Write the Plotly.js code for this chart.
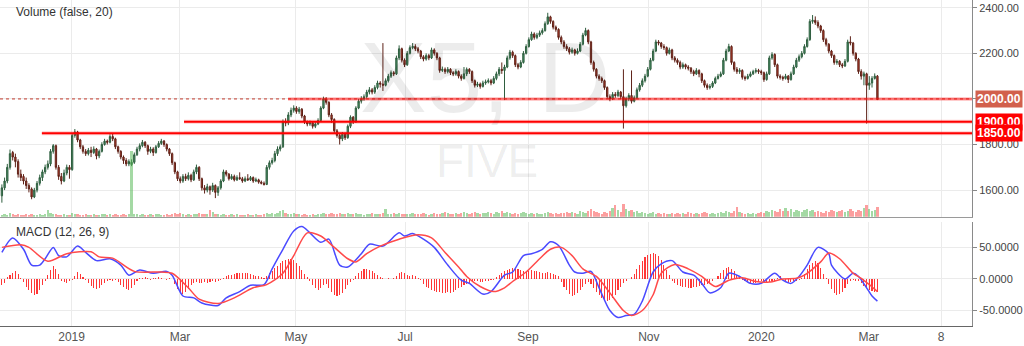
<!DOCTYPE html>
<html><head><meta charset="utf-8">
<script src="https://cdn.plot.ly/plotly-3.0.1.min.js"></script>
<style>html,body{margin:0;padding:0;background:#fff}#chart{width:1024px;height:346px}</style>
</head><body><div id="chart"></div>
<script>
// bar index -> trading day (daily bars, Nov 2018 .. Mar 2020)
const openP = [
1575,1610,1640,1700,1765,1745,1725,1670,1660,1640,
1620,1605,1570,1600,1630,1655,1680,1700,1715,1770,
1795,1700,1660,1640,1675,1700,1690,1840,1855,1820,
1790,1770,1760,1775,1765,1780,1750,1770,1800,1815,
1810,1835,1825,1790,1770,1745,1730,1715,1712,1722,
1755,1780,1795,1810,1795,1770,1780,1765,1790,1805,
1815,1800,1780,1760,1720,1680,1650,1640,1660,1650,
1665,1645,1680,1700,1650,1610,1600,1615,1600,1620,
1590,1610,1640,1680,1670,1650,1660,1645,1655,1650,
1640,1650,1645,1655,1640,1645,1635,1630,1625,1700,
1720,1730,1760,1780,1790,1900,1895,1930,1950,1960,
1945,1955,1925,1900,1890,1895,1880,1890,1905,1960,
2000,1985,1930,1910,1860,1840,1825,1845,1830,1880,
1920,1900,1960,1990,2000,2010,2030,2040,2030,2050,
2070,2065,2060,2080,2100,2115,2110,2180,2220,2170,
2150,2200,2225,2230,2220,2210,2185,2175,2190,2180,
2215,2200,2180,2125,2130,2120,2130,2115,2110,2120,
2100,2090,2110,2130,2120,2080,2060,2065,2055,2070,
2075,2080,2070,2090,2110,2130,2125,2140,2180,2205,
2190,2150,2140,2160,2200,2230,2260,2285,2270,2280,
2290,2300,2330,2360,2340,2315,2305,2270,2250,2230,
2220,2205,2215,2200,2210,2240,2280,2300,2250,2160,
2130,2100,2090,2080,2050,2010,2000,2020,2015,2030,
2010,1970,2000,2015,1990,2005,2040,2060,2080,2100,
2130,2170,2210,2250,2245,2230,2225,2200,2215,2180,
2170,2160,2140,2150,2140,2135,2120,2110,2125,2110,
2080,2060,2050,2055,2070,2090,2100,2110,2170,2210,
2230,2160,2130,2120,2125,2095,2090,2100,2110,2120,
2125,2120,2115,2085,2110,2180,2195,2150,2100,2095,
2090,2100,2085,2110,2140,2170,2185,2200,2230,2260,
2340,2345,2335,2320,2300,2260,2240,2210,2190,2160,
2165,2150,2145,2165,2250,2245,2200,2175,2120,2100,
2110,2060,2070,2090,2100];
const highP = [
1625,1655,1715,1778,1772,1760,1735,1690,1670,1655,
1630,1612,1610,1640,1668,1690,1712,1730,1780,1802,
1800,1710,1675,1690,1712,1710,1848,1868,1860,1825,
1798,1780,1785,1790,1792,1785,1778,1810,1825,1822,
1845,1848,1830,1795,1775,1752,1740,1735,1735,1765,
1790,1805,1820,1815,1800,1790,1788,1798,1815,1825,
1820,1805,1785,1765,1725,1685,1660,1670,1672,1678,
1672,1690,1712,1705,1655,1622,1628,1620,1632,1625,
1618,1648,1690,1688,1675,1670,1668,1665,1678,1658,
1660,1670,1662,1660,1655,1650,1642,1638,1710,1730,
1742,1772,1792,1800,1910,1915,1942,1962,1972,1968,
1965,1960,1930,1905,1905,1900,1898,1915,1968,2010,
2008,1990,1938,1915,1868,1850,1855,1852,1888,1928,
1925,1968,2000,2012,2020,2040,2052,2048,2060,2080,
2078,2245,2090,2110,2125,2122,2190,2235,2225,2178,
2210,2235,2245,2240,2228,2215,2192,2200,2198,2225,
2222,2205,2185,2142,2138,2140,2135,2122,2130,2125,
2108,2140,2138,2135,2125,2085,2075,2072,2080,2085,
2090,2088,2100,2120,2140,2160,2150,2190,2215,2212,
2195,2158,2170,2210,2240,2270,2295,2292,2290,2300,
2310,2340,2378,2365,2345,2322,2310,2278,2258,2240,
2228,2225,2220,2222,2250,2290,2312,2305,2255,2168,
2135,2108,2098,2085,2055,2020,2030,2030,2040,2035,
2130,2010,2025,2125,2015,2050,2070,2090,2110,2140,
2180,2220,2260,2258,2250,2240,2230,2225,2220,2188,
2178,2168,2160,2155,2148,2140,2128,2135,2130,2115,
2085,2068,2065,2078,2098,2110,2120,2180,2220,2242,
2235,2165,2140,2135,2130,2102,2110,2120,2128,2135,
2132,2128,2120,2120,2190,2205,2200,2155,2108,2102,
2110,2105,2120,2150,2180,2195,2210,2240,2270,2350,
2368,2362,2345,2325,2305,2268,2245,2215,2195,2175,
2170,2158,2175,2260,2275,2250,2205,2180,2130,2120,
2115,2100,2100,2112,2105];
const lowP = [
1545,1600,1630,1690,1730,1700,1655,1640,1625,1605,
1590,1560,1565,1590,1620,1640,1670,1690,1705,1760,
1690,1645,1625,1635,1665,1650,1685,1830,1810,1780,
1760,1750,1752,1745,1758,1735,1740,1765,1795,1800,
1805,1815,1780,1760,1735,1715,1705,1705,1705,1715,
1750,1770,1788,1785,1755,1762,1750,1760,1785,1798,
1790,1770,1750,1710,1670,1640,1630,1632,1640,1642,
1635,1640,1670,1640,1598,1585,1590,1580,1592,1565,
1575,1602,1635,1660,1642,1645,1638,1640,1645,1632,
1635,1640,1640,1632,1635,1628,1625,1620,1622,1690,
1712,1722,1750,1770,1785,1880,1885,1920,1940,1935,
1935,1915,1890,1880,1882,1870,1872,1885,1900,1955,
1975,1920,1895,1850,1830,1800,1815,1820,1825,1872,
1890,1895,1955,1980,1992,2002,2020,2020,2022,2042,
2050,2035,2055,2072,2092,2100,2105,2170,2160,2140,
2145,2195,2218,2210,2200,2175,2165,2168,2170,2175,
2190,2170,2115,2118,2110,2112,2105,2100,2102,2090,
2080,2085,2100,2110,2070,2050,2052,2045,2050,2062,
2068,2060,2065,2082,2100,2110,1995,2135,2172,2180,
2140,2130,2135,2155,2195,2225,2255,2260,2262,2272,
2282,2295,2325,2330,2305,2295,2260,2240,2220,2210,
2195,2198,2190,2195,2205,2235,2275,2240,2150,2120,
2090,2080,2070,2040,2000,1990,1995,2005,2008,2000,
1870,1962,1990,1980,1985,2000,2032,2052,2072,2095,
2125,2165,2205,2235,2220,2215,2190,2195,2170,2160,
2150,2130,2132,2130,2125,2110,2100,2105,2095,2070,
2050,2040,2042,2048,2065,2085,2095,2105,2165,2205,
2150,2120,2110,2110,2085,2080,2085,2095,2105,2112,
2110,2105,2075,2080,2105,2172,2140,2090,2085,2080,
2085,2070,2080,2105,2135,2162,2178,2195,2225,2255,
2330,2325,2310,2290,2250,2230,2200,2180,2150,2150,
2140,2135,2140,2160,2235,2190,2165,2110,2085,2060,
1892,2040,2050,2085,1995];
const closeP = [
1610,1640,1700,1760,1745,1725,1670,1655,1640,1620,
1605,1570,1600,1630,1655,1680,1700,1715,1770,1795,
1700,1660,1640,1675,1700,1690,1840,1855,1820,1790,
1770,1760,1775,1765,1780,1750,1770,1800,1815,1810,
1835,1825,1790,1770,1745,1730,1715,1725,1722,1755,
1780,1795,1810,1795,1770,1780,1765,1790,1805,1815,
1800,1780,1760,1720,1680,1650,1640,1660,1650,1665,
1645,1680,1700,1650,1610,1600,1615,1600,1620,1590,
1610,1640,1680,1670,1650,1660,1645,1655,1650,1640,
1650,1645,1655,1640,1645,1635,1630,1625,1700,1720,
1730,1760,1780,1790,1900,1895,1930,1950,1960,1945,
1955,1925,1900,1890,1895,1880,1890,1905,1960,2000,
1985,1930,1910,1860,1840,1825,1845,1830,1880,1920,
1900,1960,1990,2000,2010,2030,2040,2030,2050,2070,
2065,2060,2080,2100,2115,2110,2180,2220,2170,2150,
2200,2225,2230,2220,2210,2185,2175,2190,2180,2215,
2200,2180,2125,2130,2120,2130,2115,2110,2120,2100,
2090,2110,2130,2120,2080,2060,2065,2055,2070,2075,
2080,2070,2090,2110,2130,2125,2140,2180,2205,2190,
2150,2140,2160,2200,2230,2260,2285,2270,2280,2290,
2300,2330,2360,2340,2315,2305,2270,2250,2230,2220,
2205,2215,2200,2210,2240,2280,2300,2250,2160,2130,
2100,2090,2080,2050,2010,2000,2020,2015,2030,2010,
1970,2000,2015,1990,2005,2040,2060,2080,2100,2130,
2170,2210,2250,2245,2230,2225,2200,2215,2180,2170,
2160,2140,2150,2140,2135,2120,2110,2125,2110,2080,
2060,2050,2055,2070,2090,2100,2110,2170,2210,2230,
2160,2130,2120,2125,2095,2090,2100,2110,2120,2125,
2120,2115,2085,2110,2180,2195,2150,2100,2095,2090,
2100,2085,2110,2140,2170,2185,2200,2230,2260,2340,
2345,2335,2320,2300,2260,2240,2210,2190,2160,2165,
2150,2145,2165,2250,2245,2200,2175,2120,2100,2110,
2060,2070,2090,2100,1998];
const volume = [
2,3,2,4,3,2,3,2,2,3, 2,3,2,2,3,2,3,7,4,3, 3,2,2,3,2,2,4,3,3,2, 2,3,2,2,3,2,2,3,3,2,
3,2,3,2,2,3,2,3,66,3, 3,2,3,2,2,3,2,3,3,2, 2,3,2,3,4,3,4,3,2,3, 2,3,3,4,3,3,3,7,5,3,
3,2,3,2,2,3,2,3,2,2, 2,3,2,2,3,2,2,3,4,3, 4,3,4,6,7,4,3,3,4,3, 3,2,3,2,2,3,2,3,3,4,
3,3,4,3,3,4,3,3,4,3, 3,4,3,3,2,3,3,4,3,3, 3,4,8,3,3,4,3,4,3,3, 3,3,4,3,3,3,4,3,2,3,
4,3,3,4,5,4,3,3,4,3, 4,5,4,3,4,5,4,3,4,4, 5,4,3,5,4,6,4,5,4,3, 4,3,4,5,4,3,4,3,4,3,
3,4,5,4,3,4,3,4,4,5, 4,5,4,3,6,5,4,6,8,6, 5,4,3,5,4,6,9,12,7,5, 13,8,6,7,5,6,4,5,4,3,
4,5,3,4,3,4,3,3,4,3, 4,3,4,3,5,4,3,4,3,4, 5,4,3,4,3,4,5,4,6,5, 4,6,10,5,4,3,4,3,4,3,
4,5,4,6,5,7,6,5,8,6, 9,6,8,5,7,6,5,7,8,6, 7,5,6,5,4,6,5,7,6,5, 6,7,5,6,8,6,5,7,6,9,
12,8,6,7,10];
// MACD (12, 26, 9)
const macdIdx = [0,4,8,11,14,16,19,21,24,28,31,35,40,44,47,51,56,61,63,67,71,74,80,83,88,92,97,100,104,108,111,114,118,121,125,128,133,136,141,147,149,152,156,160,165,170,173,178,181,186,189,193,196,200,203,206,210,212,215,218,221,225,228,231,234,237,241,244,248,252,256,259,262,266,269,273,277,281,286,289,292,295,298,302,306,307,312,315,317,320,322,324];
const macdLine = [42,65,47,22,22,32,50,37,35,52,42,29,32,22,6,14,9,12,6,-27,-30,-38,-42,-30,-20,-10,-9,16,47,76,83,73,58,63,22,19,40,55,52,73,68,72,63,50,22,-2,-7,-24,-20,6,11,37,40,47,59,53,22,11,9,12,-14,-50,-61,-58,-56,-35,11,24,29,11,6,-7,-22,-14,9,4,-7,-7,9,-2,-7,4,22,50,40,22,0,9,4,-14,-27,-35];
const signalIdx = [0,7,10,17,24,33,36,41,49,59,63,69,73,80,86,93,98,104,108,113,118,123,128,131,135,140,147,154,159,164,169,172,177,182,186,189,194,199,203,207,211,215,220,225,230,233,237,241,244,249,254,259,264,269,274,279,284,289,294,297,303,306,310,315,318,321,324];
const signalLine = [50,54,50,28,40,43,35,33,12,11,9,-14,-32,-39,-30,-14,-9,9,37,73,68,50,32,27,40,52,63,70,65,42,19,4,-12,-20,-14,-4,11,32,47,50,37,16,4,-22,-50,-58,-50,-25,9,23,16,4,-12,-2,2,-4,-5,0,1,6,27,41,32,9,1,-9,-20];
const macdHist = [
-10,-6, 3,7,10,12,8, 1, -5,-12,-18,-23,-26,-24,-18,-10,-4, 6,14,20,16,8, -3,-5,-6,-4,-2, 5,11,8,3, -2,
-6,-11,-14,-16,-14,-10,-6,-3, -2,-3,-1, -5,-9,-13,-16,-17,-14,-9,-4, 1,2,3,2,-1,1,2,3,2,0,-2,1,0,
-8,-16,-22,-24,-21,-16,-10,-6, -5,-6,-7,-5,-6,-5,-4,-5,-3,-2, 2,4,6,7,8,9,10,10,10,9,8,7,5,4,3,2,
5,9,13,17,21,25,28,30,32,32,30,26,20,14,8,3, -4,-10,-14,-17,-15,-10,-8,-14,-20,-25,-27,-26,-22,-16,-10,-5,-2,
4,9,13,15,15,14,12,9,6,3, 1,0,1,0,2, 5,10,11,9,7,5,6,4,2, -2,
-8,-12,-15,-17,-19,-20,-21,-22,-22,-21,-22,-20,-18,-15,-12,-10,-8,-6,-5,-4, -4,-5,-5,-4,-3,-2,-1,
3,7,10,12,14,16,17, 16,15,14,13,12,13,14,13,12,11,10,10,11,9,8,6,4,
-5,-12,-18,-24,-27,-26,-22,-18,-12,-8,-5, -8,-14,-20,-26,-30,-33,-35,-34,-30,-25,-18,-12,-7, -3,0,
3,8,15,22,29,34,38,40,41,40,36,30,22,14,6, -3,-6,-9,-11,-12,-13,-14,-14,-13,-12,-11,-10,-9,-8,-6,-3,
0,4,9,14, 18,19,16,12,7,3, -2,-4,-5,-6,-7,-6,-5,-4,-5,-6,-5,-4,-3,2,4,-2,-5,-6,-5,-4,-3,-1,2,
8,15,22,26,28,25,18, 8,2, -8,-16,-22,-25,-24,-20,-14,-8, -3,-2,-3,-4, -7,-11,-14,-17,-19,-21,-20];
const tickPos = [25.8, 65.9, 108.8, 149.2, 194.7, 239.4, 281.0, 320.8, 347.6];
const tickLabels = ['2019','Mar','May','Jul','Sep','Nov','2020','Mar','8'];
const priceTicks = [1600, 1800, 2000, 2200, 2400];
const macdTicks = [-50, 0, 50];
const levels = [2000, 1900, 1850];
const levelStart = [105.9, 67.4, 14.8];
const levelText = ['2000.00', '1900.00', '1850.00'];
const levelColor = ['#d2604c', '#ff0000', '#ff0000'];

const idx = closeP.map((_, i) => i);
const XMAX = 359;
const FONT = 'Arial, "Liberation Sans", sans-serif';

const candles = {
  type: 'candlestick', x: idx, open: openP, high: highP, low: lowP, close: closeP,
  xaxis: 'x', yaxis: 'y',
  increasing: {line: {color: '#2f5e3f', width: 1}, fillcolor: '#4a956a'},
  decreasing: {line: {color: '#5e2218', width: 1}, fillcolor: '#c23f2c'},
  whiskerwidth: 0, hoverinfo: 'skip'
};
const volColors = closeP.map((c, i) => c >= openP[i] ? 'rgba(90,185,90,0.55)' : 'rgba(250,95,95,0.6)');
const vol = {
  type: 'bar', x: idx, y: volume, xaxis: 'x', yaxis: 'y3',
  marker: {color: volColors, line: {width: 0}}, width: 0.85, hoverinfo: 'skip'
};
const hist = {
  type: 'bar', x: idx, y: macdHist, xaxis: 'x2', yaxis: 'y2',
  marker: {color: 'rgba(255,20,20,0.85)', line: {width: 0}}, width: 0.4, hoverinfo: 'skip'
};
const mline = {
  type: 'scatter', mode: 'lines', x: macdIdx, y: macdLine, xaxis: 'x2', yaxis: 'y2',
  line: {color: '#4a4aff', width: 1.5, shape: 'spline', smoothing: 0.8}, hoverinfo: 'skip'
};
const sline = {
  type: 'scatter', mode: 'lines', x: signalIdx, y: signalLine, xaxis: 'x2', yaxis: 'y2',
  line: {color: '#ff4a4a', width: 1.5, shape: 'spline', smoothing: 0.8}, hoverinfo: 'skip'
};

const shapes = [{
  type: 'line', xref: 'x', yref: 'y', x0: -0.7, x1: XMAX, y0: 2000, y1: 2000,
  line: {color: '#c0392b', width: 1, dash: 'dot'}, layer: 'above'
}];
levels.forEach((lv, k) => {
  shapes.push({type: 'line', xref: 'x', yref: 'y', x0: levelStart[k], x1: XMAX, y0: lv, y1: lv,
    line: {color: 'rgba(255,0,0,0.2)', width: 4}, layer: 'above'});
  shapes.push({type: 'line', xref: 'x', yref: 'y', x0: levelStart[k], x1: XMAX, y0: lv, y1: lv,
    line: {color: k === 0 ? 'rgba(255,0,0,0.55)' : '#ff0000', width: k === 0 ? 1.5 : 2}, layer: 'above'});
});

const annotations = [
  {xref: 'paper', yref: 'paper', x: 14/972, y: 1 - 12/326, xanchor: 'left', yanchor: 'middle',
   text: 'Volume (false, 20)', showarrow: false, font: {family: FONT, size: 12, color: '#333'}},
  {xref: 'paper', yref: 'paper', x: 14/972, y: 1 - 232/326, xanchor: 'left', yanchor: 'middle',
   text: 'MACD (12, 26, 9)', showarrow: false, font: {family: FONT, size: 12, color: '#333'}},
  {xref: 'paper', yref: 'paper', x: 485/972, y: 1 - 77/326, xanchor: 'center', yanchor: 'middle',
   text: 'X5, D', showarrow: false, font: {family: FONT, size: 100, color: 'rgba(0,0,0,0.075)'}},
  {xref: 'paper', yref: 'paper', x: 487/972, y: 1 - 161/326, xanchor: 'center', yanchor: 'middle',
   text: 'FIVE', showarrow: false, font: {family: FONT, size: 46, color: 'rgba(0,0,0,0.075)'}}
];
levels.forEach((lv, k) => {
  annotations.push({xref: 'paper', yref: 'y', x: 1, y: lv, xanchor: 'left', yanchor: 'middle', xshift: 3,
    text: '<b>' + levelText[k] + '</b>', showarrow: false, bgcolor: levelColor[k], borderpad: 1,
    font: {family: FONT, size: 12, color: '#ffffff'}});
});

const gridC = '#ebebeb';
const tickFont = {family: FONT, size: 11, color: '#444'};
const layout = {
  width: 1024, height: 346,
  margin: {l: 0, r: 52, t: 0, b: 20},
  paper_bgcolor: '#ffffff', plot_bgcolor: '#ffffff',
  showlegend: false, hovermode: false, bargap: 0,
  font: {family: FONT, size: 12, color: '#444'},
  xaxis: {domain: [0, 1], anchor: 'y', range: [-0.7, XMAX], tickmode: 'array', tickvals: tickPos, ticktext: tickLabels,
    showticklabels: false, showgrid: true, gridcolor: gridC, zeroline: false, showline: true, linecolor: '#9a9a9a',
    rangeslider: {visible: false}, fixedrange: true},
  yaxis: {domain: [0.335, 1], anchor: 'x', side: 'right', range: [1483, 2434], tickmode: 'array', tickvals: priceTicks,
    ticktext: priceTicks.map(v => v.toFixed(2)), ticks: 'outside', ticklen: 4, tickcolor: '#888',
    showgrid: true, gridcolor: gridC, zeroline: false, showline: true, linecolor: '#8a8a8a',
    tickfont: tickFont},
  yaxis3: {overlaying: 'y', side: 'left', range: [0, 217], visible: false, showgrid: false},
  xaxis2: {domain: [0, 1], anchor: 'y2', range: [-0.7, XMAX], tickmode: 'array', tickvals: tickPos, ticktext: tickLabels,
    showgrid: true, gridcolor: gridC, zeroline: false, showline: true, linecolor: '#666', ticks: '',
    tickfont: {family: FONT, size: 12, color: '#555'}},
  yaxis2: {domain: [0, 0.32], anchor: 'x2', side: 'right', range: [-74.5, 90.7], tickmode: 'array', tickvals: macdTicks,
    ticktext: macdTicks.map(v => v.toFixed(4)), ticks: 'outside', ticklen: 4, tickcolor: '#888',
    showgrid: true, gridcolor: gridC, zeroline: false, showline: true, linecolor: '#8a8a8a',
    tickfont: tickFont},
  shapes: shapes,
  annotations: annotations
};

Plotly.newPlot('chart', [vol, candles, hist, mline, sline], layout, {staticPlot: true, displayModeBar: false});
</script>
</body></html>
